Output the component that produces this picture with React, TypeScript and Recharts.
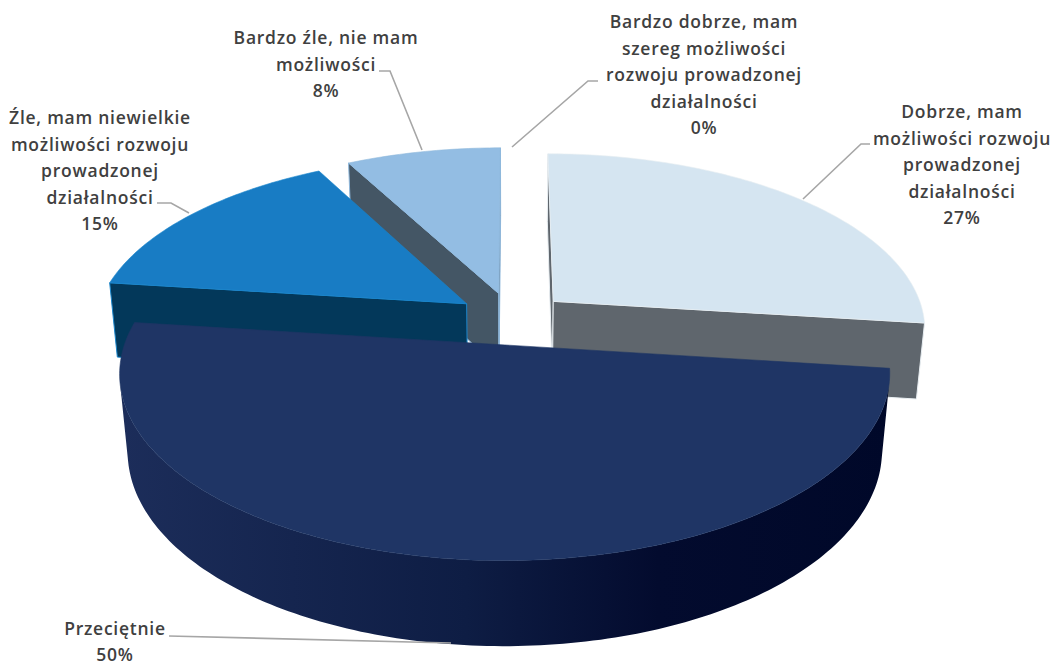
import { Pie, PieChart } from "recharts";

const sliceNames = [
  "Bardzo dobrze, mam szereg możliwości rozwoju prowadzonej działalności",
  "Dobrze, mam możliwości rozwoju prowadzonej działalności",
  "Przeciętnie",
  "Źle, mam niewielkie możliwości rozwoju prowadzonej działalności",
  "Bardzo źle, nie mam możliwości",
];
// labels print these rounded
const sliceValues = [0, 27, 50, 15.2, 7.8];
const topColors = ["#7f7f7f", "#d5e5f1", "#1f3565", "#187cc4", "#93bde3"];
const wallColors = ["#7f7f7f", "#5f666d", "url(#bigWall)", "#03385a", "#445665"];
const edgeColors = ["none", "#e8eef2", "none", "#1a86cc", "#8fb8dc"];

// wrapped label text, one list per slice
const labelRows = [
  ["Bardzo dobrze, mam", "szereg możliwości", "rozwoju prowadzonej", "działalności"],
  ["Dobrze, mam", "możliwości rozwoju", "prowadzonej", "działalności"],
  ["Przeciętnie"],
  ["Źle, mam niewielkie", "możliwości rozwoju", "prowadzonej", "działalności"],
  ["Bardzo źle, nie mam", "możliwości"],
];

// where each label sits and how its leader runs
const labelPlacement = [
  { x: 704, y: 28, leader: "M598 81 H588 L512 147" },
  { x: 962, y: 118, leader: "M870 144 H861 L803 199" },
  { x: 115, y: 634.5, leader: "M169 636 L451 643" },
  { x: 100, y: 124, leader: "M157 203 H171 L189 213" },
  { x: 326, y: 44, leader: "M379 71 H390 L422 150" },
];

const sliceData = sliceNames.map((name, i) => ({
  name,
  value: sliceValues[i],
  fill: topColors[i],
  wall: wallColors[i],
  edge: edgeColors[i],
}));

// back to front, the clockwise data order would stack the walls wrongly
const drawOrder = [1, 4, 3, 0, 2];

// pie is flattened by hand: Recharts only gives us flat circles
const PERSPECTIVE = 0.15;
const BOTTOM_SHRINK = 0.02;
const TILT = 0.469;
const DEPTH = 77.4;
const EXPLODE = 0.15;

const rad = (deg: number) => (deg * Math.PI) / 180;

function Slice3D(props: any) {
  const { cx, cy, outerRadius, startAngle, endAngle, payload } = props;
  if (startAngle === endAngle) return null;
  const mid = rad((startAngle + endAngle) / 2);
  const ox = Math.cos(mid) * EXPLODE;
  const oy = Math.sin(mid) * EXPLODE;

  const project = (u: number, v: number, z: number) => {
    const w = 1 + PERSPECTIVE * v + BOTTOM_SHRINK * z;
    return [cx + (outerRadius * u) / w, cy + (-outerRadius * TILT * v + DEPTH * z) / w];
  };
  const apex = (z: number) => project(ox, oy, z);
  const rim = (deg: number, z: number) =>
    project(ox + Math.cos(rad(deg)), oy + Math.sin(rad(deg)), z);

  const steps = Math.max(2, Math.ceil(Math.abs(endAngle - startAngle)));
  const angles = Array.from(
    { length: steps + 1 },
    (_, i) => startAngle + ((endAngle - startAngle) * i) / steps,
  );
  const poly = (pts: number[][]) =>
    "M" + pts.map((p) => `${p[0].toFixed(2)} ${p[1].toFixed(2)}`).join("L") + "Z";

  const rimMid = rim((startAngle + endAngle) / 2, 0);
  const cutWall = (deg: number) => {
    const a = apex(0);
    const r = rim(deg, 0);
    const ex = r[0] - a[0];
    const ey = r[1] - a[1];
    const inside = ex * (rimMid[1] - a[1]) - ey * (rimMid[0] - a[0]);
    // wall shows only if "down" leads out of the top face
    if (ex * inside > 0) return "";
    return poly([a, r, rim(deg, 1), apex(1)]);
  };

  let rimWall = "";
  for (let i = 0; i < steps; i++) {
    const q = [rim(angles[i], 0), rim(angles[i + 1], 0), rim(angles[i + 1], 1), rim(angles[i], 1)];
    let area = 0;
    q.forEach((p, j) => {
      const n = q[(j + 1) % 4];
      area += p[0] * n[1] - n[0] * p[1];
    });
    if (area < 0) rimWall += poly(q);
  }

  const top = poly([apex(0), ...angles.map((a) => rim(a, 0))]);
  const edge = payload.edge;

  return (
    <g>
      <path d={cutWall(startAngle)} fill={payload.wall} stroke={edge} strokeWidth={1} />
      <path d={cutWall(endAngle)} fill={payload.wall} stroke={edge} strokeWidth={1} />
      <path d={rimWall} fill={payload.wall} />
      <path d={top} fill={payload.fill} stroke={edge === "none" ? payload.fill : edge} strokeWidth={0.6} />
    </g>
  );
}

function SliceLabel(props: any) {
  const i = props.index;
  const place = labelPlacement[i];
  const rows = [...labelRows[i], `${Math.round(sliceValues[i])}%`];
  return (
    <g>
      <path d={place.leader} fill="none" stroke="#a6a6a6" strokeWidth={1.6} />
      <text
        textAnchor="middle"
        fontFamily="'Open Sans', sans-serif"
        fontSize={17.5}
        fontWeight={600}
        letterSpacing={0.75}
        fill="#404040"
      >
        {rows.map((row, r) => (
          <tspan key={r} x={place.x} y={place.y + r * 26.6}>
            {row}
          </tspan>
        ))}
      </text>
    </g>
  );
}

export default function App() {
  return (
    <div style={{ position: "absolute", left: 0, top: 0, background: "#fff" }}>
      <PieChart width={1052} height={662} margin={{ top: 0, right: 0, bottom: 0, left: 0 }}>
        <defs>
          <linearGradient id="bigWall" x1="0" y1="0" x2="1" y2="0">
            <stop offset="0%" stopColor="#1c2d5a" />
            <stop offset="45%" stopColor="#0e1d44" />
            <stop offset="70%" stopColor="#030b2e" />
            <stop offset="100%" stopColor="#000829" />
          </linearGradient>
        </defs>
        {drawOrder.map((slice, layer) => (
          <Pie
            key={slice}
            data={sliceData}
            dataKey="value"
            nameKey="name"
            cx={512}
            cy={318.4}
            outerRadius={372}
            startAngle={90}
            endAngle={-270}
            isAnimationActive={false}
            shape={(p: any) => (p.name === sliceNames[slice] ? <Slice3D {...p} /> : <g />)}
            label={layer === drawOrder.length - 1 ? (p: any) => <SliceLabel {...p} /> : false}
            labelLine={false}
          />
        ))}
      </PieChart>
    </div>
  );
}
